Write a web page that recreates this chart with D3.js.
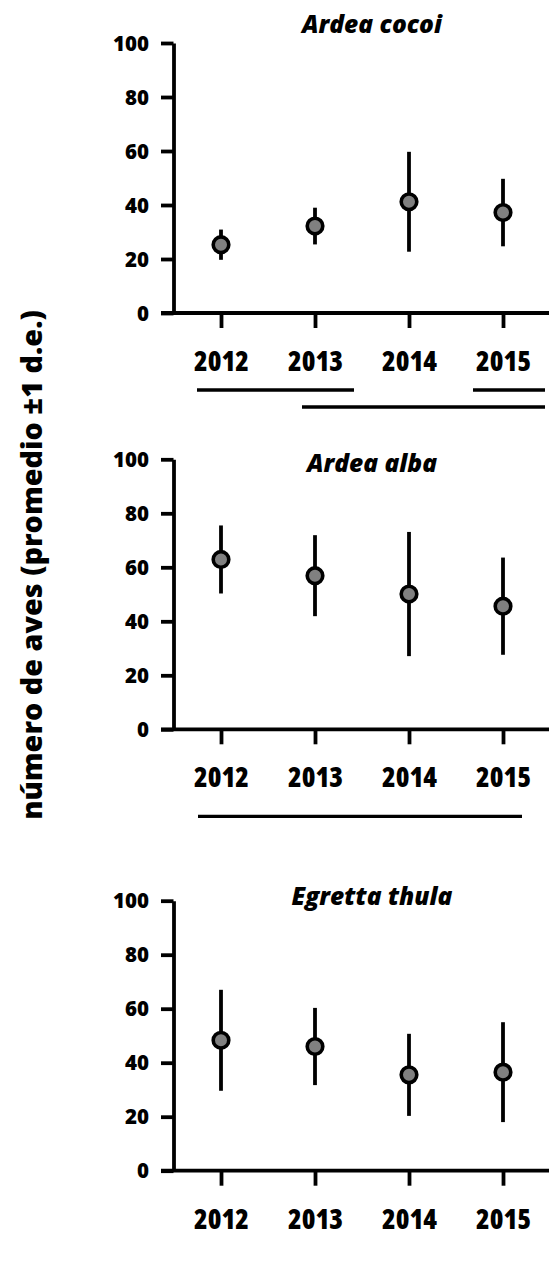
<!DOCTYPE html>
<html>
<head>
<meta charset="utf-8">
<script src="https://cdn.jsdelivr.net/npm/d3@7"></script>
<style>
  html, body { margin: 0; padding: 0; background: #fff; }
  svg { display: block; }
  text { font-family: "Open Sans", Lato, sans-serif; font-weight: 800; fill: #000; }
</style>
</head>
<body>
<script>
// Years surveyed and y-axis ticks
const years = ["2012", "2013", "2014", "2015"];
const yTicks = [0, 20, 40, 60, 80, 100];

// Species shown, one panel each
const species = ["Ardea cocoi", "Ardea alba", "Egretta thula"];

// Mean number of birds per year and standard deviation
const meanCocoi = [25.3, 32.2, 41.2, 37.2];
const sdCocoi   = [5.6, 6.8, 18.5, 12.5];
const meanAlba  = [62.9, 56.9, 50.1, 45.6];
const sdAlba    = [12.6, 15.0, 23.0, 18.0];
const meanThula = [48.3, 46.0, 35.5, 36.5];
const sdThula   = [18.7, 14.3, 15.2, 18.5];

// Homogeneous groups (years joined by a line are not significantly different)
const groupsCocoi = [["2012", "2013"], ["2013", "2015"], ["2015", "2015"]];
const groupsAlba  = [["2012", "2015"]];
const groupsThula = [];

const W = 549, H = 1263;
const FONT = '"Open Sans", Lato, sans-serif';
const WEIGHT = 800;
const svg = d3.select("body").append("svg").attr("width", W).attr("height", H);
svg.append("rect").attr("width", W).attr("height", H).attr("fill", "#fff");

// Pick a font size so that a sample string spans the wanted width
function fitSize(sample, width, style, stretch) {
  const t = svg.append("text").attr("font-family", FONT).attr("font-weight", WEIGHT)
    .attr("font-size", 20).attr("font-style", style || null)
    .style("font-stretch", stretch || "100%").text(sample);
  const w = t.node().getComputedTextLength();
  t.remove();
  return 20 * width / w;
}
const YEAR_STRETCH = "87.5%";
const yTickSize = fitSize("100", 36);
const xTickSize = fitSize("2012", 55, null, YEAR_STRETCH);
const titleSize = fitSize("Ardea cocoi", 140, "italic");
const yTitleSize = fitSize("número de aves (promedio ±1 d.e.)", 510);

const panels = [
  { name: species[0], mean: meanCocoi, sd: sdCocoi, groups: groupsCocoi, zeroY: 313,   titleY: 33,
    lineLayout: [{ dy: 77, padL: 24, padR: 39 }, { dy: 94, padL: 13, padR: 42 }, { dy: 77, padL: 30, padR: 42 }] },
  { name: species[1], mean: meanAlba,  sd: sdAlba,  groups: groupsAlba,  zeroY: 729.3, titleY: 471.5,
    lineLayout: [{ dy: 87, padL: 23, padR: 19 }] },
  { name: species[2], mean: meanThula, sd: sdThula, groups: groupsThula, zeroY: 1170.7, titleY: 905,
    lineLayout: [] }
];

const axisX = 173.5, axisRight = 549, plotH = 270;
const x = d3.scalePoint().domain(years).range([221, 503]);

panels.forEach(p => {
  const y = d3.scaleLinear().domain([0, 100]).range([p.zeroY, p.zeroY - plotH]);
  const g = svg.append("g");

  // y axis
  const ya = g.append("g")
    .attr("transform", `translate(${axisX},0)`)
    .call(d3.axisLeft(y).tickValues(yTicks).tickSize(12.5).tickSizeOuter(0).tickPadding(12));
  ya.attr("font-family", FONT).attr("font-size", yTickSize);
  ya.select(".domain").attr("stroke", "#000").attr("stroke-width", 3.8);
  ya.selectAll(".tick line").attr("stroke", "#000").attr("stroke-width", 3.8);
  ya.selectAll(".tick text").attr("font-weight", WEIGHT).attr("fill", "#000").attr("dy", "0.35em");

  // x axis baseline
  g.append("line")
    .attr("x1", axisX - 12.5).attr("x2", axisRight)
    .attr("y1", y(0)).attr("y2", y(0))
    .attr("stroke", "#000").attr("stroke-width", 3.8);

  // x axis ticks and year labels
  const xa = g.append("g")
    .attr("transform", `translate(0,${y(0)})`)
    .call(d3.axisBottom(x).tickSize(15).tickSizeOuter(0).tickPadding(0));
  xa.attr("font-family", FONT).attr("font-size", xTickSize);
  xa.select(".domain").remove();
  xa.selectAll(".tick line").attr("stroke", "#000").attr("stroke-width", 3.8);
  xa.selectAll(".tick text").attr("font-weight", WEIGHT).attr("fill", "#000")
    .style("font-stretch", YEAR_STRETCH)
    .attr("dy", null).attr("y", 58);

  // title
  g.append("text")
    .attr("x", 372).attr("y", p.titleY)
    .attr("text-anchor", "middle")
    .attr("font-style", "italic")
    .attr("font-size", titleSize)
    .text(p.name);

  const pts = years.map((yr, i) => ({ yr, m: p.mean[i], s: p.sd[i] }));

  // error bars (mean ± 1 s.d.)
  g.selectAll(".err").data(pts).enter().append("line")
    .attr("x1", d => x(d.yr)).attr("x2", d => x(d.yr))
    .attr("y1", d => y(d.m - d.s)).attr("y2", d => y(d.m + d.s))
    .attr("stroke", "#000").attr("stroke-width", 3.8);

  // means
  g.selectAll(".pt").data(pts).enter().append("circle")
    .attr("cx", d => x(d.yr)).attr("cy", d => y(d.m))
    .attr("r", 7.8)
    .attr("fill", "#808080").attr("stroke", "#000").attr("stroke-width", 3.6);

  // homogeneous-group lines below the axis
  p.groups.forEach((gr, i) => {
    const L = p.lineLayout[i];
    g.append("line")
      .attr("x1", x(gr[0]) - L.padL).attr("x2", x(gr[1]) + L.padR)
      .attr("y1", y(0) + L.dy).attr("y2", y(0) + L.dy)
      .attr("stroke", "#000").attr("stroke-width", 3.3);
  });
});

// shared y-axis title
svg.append("text")
  .attr("transform", "translate(30,565) rotate(-90)")
  .attr("text-anchor", "middle")
  .attr("dominant-baseline", "central")
  .attr("font-size", yTitleSize)
  .text("número de aves (promedio ±1 d.e.)");
</script>
</body>
</html>
